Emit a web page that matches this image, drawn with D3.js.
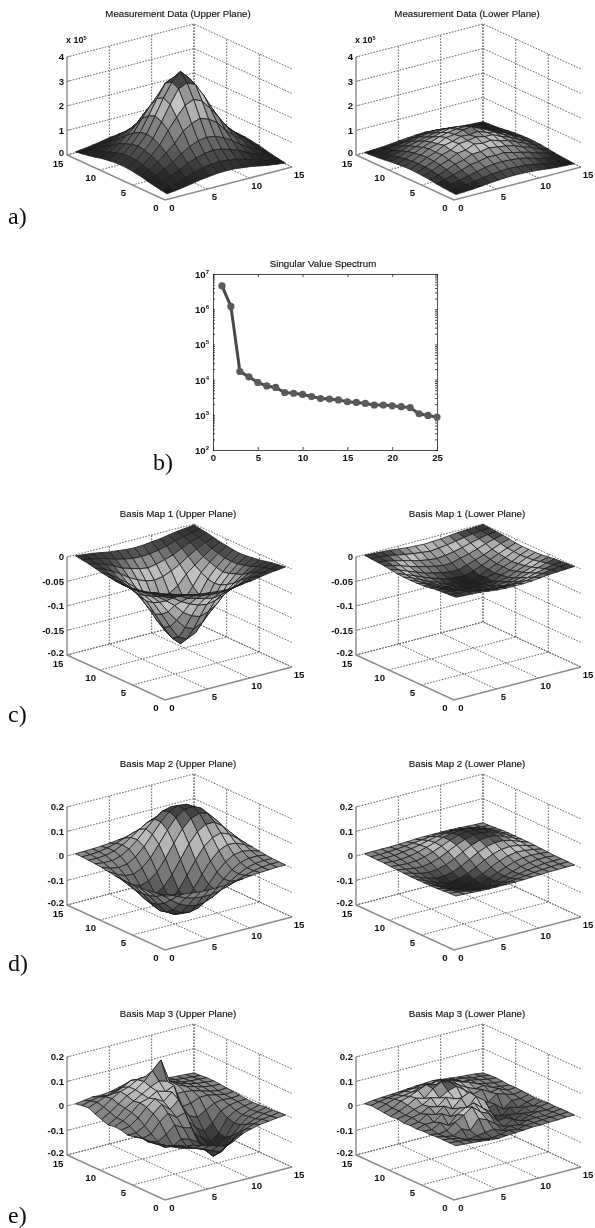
<!DOCTYPE html>
<html>
<head>
<meta charset="utf-8">
<script src="https://cdn.jsdelivr.net/npm/d3@7"></script>
<style>
  html, body { margin: 0; background: #fff; }
  text { font-family: "Liberation Sans", Arial, sans-serif; fill: #111; }
  .tick-label { font-size: 9.6px; font-weight: bold; }
  .title { font-size: 9.7px; stroke: #111; stroke-width: 0.15px; }
  .letter { font-family: "Liberation Serif", serif; font-size: 24px; }
</style>
</head>
<body>
<div id="chart"></div>
<script>
// singular values, panel b
const modeIndex = d3.range(1, 26)
const singularValues = [4.6e6, 1.2e6, 1.7e4, 1.2e4, 8.3e3, 6.6e3, 6.0e3, 4.3e3, 4.1e3, 3.8e3, 3.3e3, 2.9e3, 2.8e3,
  2.65e3, 2.35e3, 2.25e3, 2.1e3, 1.9e3, 1.9e3, 1.8e3, 1.7e3, 1.6e3, 1.07e3, 960, 860]

// surfaces: rows are y = 1..15, columns x = 1..15 (row 0 is the front edge)
// measurement data in units of 1e3
const measUpper = [
  [4,8,13,19,26,30,34,35,34,30,26,19,13,8,4],
  [8,14,23,32,43,52,58,60,58,52,43,32,23,14,8],
  [13,23,34,50,68,80,90,95,90,80,68,50,34,23,13],
  [19,32,50,70,95,115,130,135,130,115,95,70,50,32,19],
  [26,43,68,95,125,165,188,200,188,165,125,95,68,43,26],
  [30,52,80,115,165,210,250,265,250,210,165,115,80,52,30],
  [34,58,90,130,188,250,305,320,305,250,188,130,90,58,34],
  [35,60,95,135,200,265,320,355,320,265,200,135,95,60,35],
  [34,58,90,130,188,250,305,320,305,250,188,130,90,58,34],
  [30,52,80,115,165,210,250,265,250,210,165,115,80,52,30],
  [26,43,68,95,125,165,188,200,188,165,125,95,68,43,26],
  [19,32,50,70,95,115,130,135,130,115,95,70,50,32,19],
  [13,23,34,50,68,80,90,95,90,80,68,50,34,23,13],
  [8,14,23,32,43,52,58,60,58,52,43,32,23,14,8],
  [4,8,13,19,26,30,34,35,34,30,26,19,13,8,4]
]
const measLower = [
  [1,3,5,8,12,15,17,18,17,15,12,8,5,3,1],
  [3,6,10,16,22,27,30,32,30,27,22,16,10,6,3],
  [5,10,17,26,34,42,47,48,46,43,36,25,17,10,5],
  [8,16,27,37,50,54,63,61,64,55,47,38,26,16,8],
  [12,22,35,49,58,72,73,80,74,70,62,47,37,22,12],
  [15,27,43,54,72,76,92,86,90,78,71,56,41,27,15],
  [17,30,45,63,73,90,93,100,92,91,74,63,45,30,17],
  [18,32,49,61,80,87,99,96,101,88,80,62,49,32,18],
  [17,30,46,63,74,91,94,103,108,92,76,61,47,30,17],
  [15,27,42,56,69,82,90,95,98,84,72,56,42,27,15],
  [12,22,36,47,61,69,78,85,84,75,61,49,36,22,12],
  [8,16,26,38,48,56,64,70,68,58,50,37,26,16,8],
  [5,10,17,26,36,44,50,54,50,44,36,26,17,10,5],
  [3,6,10,16,22,28,33,36,33,28,22,16,10,6,3],
  [1,3,5,8,12,15,18,20,18,15,12,8,5,3,1]
]
// basis maps in units of 1e-3
const basis1Upper = [
  [-2,-4,-6,-9,-12,-14,-16,-17,-16,-14,-12,-9,-6,-4,-2],
  [-4,-7,-11,-15,-21,-25,-28,-29,-28,-25,-21,-15,-11,-7,-4],
  [-6,-11,-16,-24,-33,-38,-43,-46,-43,-38,-33,-24,-16,-11,-6],
  [-9,-15,-24,-34,-46,-55,-62,-65,-62,-55,-46,-34,-24,-15,-9],
  [-12,-21,-33,-46,-60,-79,-90,-96,-90,-79,-60,-46,-33,-21,-12],
  [-14,-25,-38,-55,-79,-101,-120,-127,-120,-101,-79,-55,-38,-25,-14],
  [-16,-28,-43,-62,-90,-120,-146,-154,-146,-120,-90,-62,-43,-28,-16],
  [-17,-29,-46,-65,-96,-127,-154,-170,-154,-127,-96,-65,-46,-29,-17],
  [-16,-28,-43,-62,-90,-120,-146,-154,-146,-120,-90,-62,-43,-28,-16],
  [-14,-25,-38,-55,-79,-101,-120,-127,-120,-101,-79,-55,-38,-25,-14],
  [-12,-21,-33,-46,-60,-79,-90,-96,-90,-79,-60,-46,-33,-21,-12],
  [-9,-15,-24,-34,-46,-55,-62,-65,-62,-55,-46,-34,-24,-15,-9],
  [-6,-11,-16,-24,-33,-38,-43,-46,-43,-38,-33,-24,-16,-11,-6],
  [-4,-7,-11,-15,-21,-25,-28,-29,-28,-25,-21,-15,-11,-7,-4],
  [-2,-4,-6,-9,-12,-14,-16,-17,-16,-14,-12,-9,-6,-4,-2]
]
const basis1Lower = [
  [-1,-2,-3,-4,-6,-8,-9,-9,-9,-8,-6,-4,-3,-2,-1],
  [-2,-3,-5,-8,-11,-14,-15,-16,-15,-14,-11,-8,-5,-3,-2],
  [-3,-5,-9,-13,-17,-21,-24,-24,-23,-22,-18,-13,-9,-5,-3],
  [-4,-8,-14,-19,-25,-27,-32,-31,-32,-28,-24,-19,-13,-8,-4],
  [-6,-11,-18,-25,-29,-36,-37,-40,-37,-35,-31,-24,-18,-11,-6],
  [-8,-14,-22,-27,-36,-38,-46,-43,-45,-39,-36,-28,-21,-14,-8],
  [-9,-15,-23,-32,-37,-45,-47,-50,-46,-46,-37,-32,-23,-15,-9],
  [-9,-16,-25,-31,-40,-44,-50,-48,-51,-44,-40,-31,-25,-16,-9],
  [-9,-15,-23,-32,-37,-46,-47,-51,-52,-46,-38,-31,-23,-15,-9],
  [-8,-14,-21,-28,-35,-41,-45,-47,-48,-42,-36,-28,-21,-14,-8],
  [-6,-11,-18,-24,-31,-35,-39,-42,-42,-37,-31,-25,-18,-11,-6],
  [-4,-8,-13,-19,-24,-28,-32,-35,-34,-29,-25,-19,-13,-8,-4],
  [-3,-5,-9,-13,-18,-22,-25,-27,-25,-22,-18,-13,-9,-5,-3],
  [-2,-3,-5,-8,-11,-14,-16,-18,-16,-14,-11,-8,-5,-3,-2],
  [-1,-2,-3,-4,-6,-8,-9,-10,-9,-8,-6,-4,-3,-2,-1]
]
const basis2Upper = [
  [-2,-6,-10,-15,-19,-20,-20,-19,-15,-11,-7,-4,-2,0,0],
  [-6,-18,-32,-47,-57,-61,-60,-54,-43,-31,-19,-9,-3,0,1],
  [-10,-32,-59,-85,-101,-108,-104,-91,-70,-46,-25,-9,0,3,2],
  [-15,-47,-85,-121,-141,-148,-140,-116,-84,-49,-20,0,9,9,4],
  [-19,-57,-101,-141,-161,-165,-149,-116,-74,-33,0,20,25,19,7],
  [-20,-61,-108,-148,-165,-161,-137,-95,-46,0,33,49,46,31,11],
  [-20,-60,-104,-140,-149,-137,-103,-54,0,46,74,84,70,43,15],
  [-19,-54,-91,-116,-116,-95,-54,0,54,95,116,116,91,54,19],
  [-15,-43,-70,-84,-74,-46,0,54,103,137,149,140,104,60,20],
  [-11,-31,-46,-49,-33,0,46,95,137,161,165,148,108,61,20],
  [-7,-19,-25,-20,0,33,74,116,149,165,161,141,101,57,19],
  [-4,-9,-9,0,20,49,84,116,140,148,141,121,85,47,15],
  [-2,-3,0,9,25,46,70,91,104,108,101,85,59,32,10],
  [0,0,3,9,19,31,43,54,60,61,57,47,32,18,6],
  [0,1,2,4,7,11,15,19,20,20,19,15,10,6,2]
]
const basis2Lower = [
  [-1,-2,-4,-6,-7,-7,-7,-7,-6,-4,-3,-1,-1,0,0],
  [-2,-6,-11,-17,-20,-22,-21,-19,-15,-11,-7,-4,-1,0,1],
  [-4,-11,-21,-30,-36,-38,-36,-32,-25,-16,-9,-4,0,1,1],
  [-6,-17,-30,-43,-50,-52,-49,-41,-29,-18,-7,0,4,4,1],
  [-7,-20,-36,-50,-57,-58,-53,-41,-26,-12,0,7,9,7,3],
  [-7,-22,-38,-52,-58,-57,-48,-34,-16,0,12,18,16,11,4],
  [-7,-21,-36,-49,-53,-48,-36,-19,0,16,26,29,25,15,6],
  [-7,-19,-32,-41,-41,-34,-19,0,19,34,41,41,32,19,7],
  [-6,-15,-25,-29,-26,-16,0,19,36,48,53,49,36,21,7],
  [-4,-11,-16,-18,-12,0,16,34,48,57,58,52,38,22,7],
  [-3,-7,-9,-7,0,12,26,41,53,58,57,50,36,20,7],
  [-1,-4,-4,0,7,18,29,41,49,52,50,43,30,17,6],
  [-1,-1,0,4,9,16,25,32,36,38,36,30,21,11,4],
  [0,0,1,4,7,11,15,19,21,22,20,17,11,6,2],
  [0,1,1,1,3,4,6,7,7,7,7,6,4,2,1]
]
const basis3Upper = [
  [-5,-12,-20,-25,-35,-45,-55,-65,-50,-30,-20,-12,-8,-3,0],
  [-10,-22,-30,-45,-55,-70,-85,-100,-80,-55,-35,-22,-12,-8,-2],
  [-15,-30,-45,-60,-70,-80,-95,-130,-120,-90,-60,-35,-22,-10,-5],
  [-20,-35,-60,-65,-45,-55,-75,-120,-140,-120,-85,-50,-25,-15,-5],
  [-15,-40,-50,-30,0,-20,-30,-100,-125,-135,-105,-55,-30,-18,-8],
  [-25,-40,-30,10,35,10,20,-70,-100,-125,-100,-45,-25,-15,-10],
  [-30,-30,-10,30,60,30,60,-30,-70,-95,-70,-30,-15,-10,-8],
  [-22,-15,10,45,70,50,80,10,-35,-50,-30,-10,-5,-8,-5],
  [-20,-5,20,50,60,80,70,85,-10,-5,10,10,2,-5,-2],
  [-25,-5,25,45,65,85,100,90,30,30,25,15,5,-2,0],
  [-15,5,30,55,70,95,130,165,70,45,30,20,10,5,3],
  [-5,15,40,60,70,90,95,80,60,40,30,20,12,8,5],
  [8,22,35,40,55,75,70,65,50,35,25,15,10,8,5],
  [5,15,22,18,30,45,50,55,35,25,18,12,8,5,2],
  [0,5,10,8,12,20,25,30,25,15,10,8,5,3,0]
]
const basis3Lower = [
  [0,-2,-5,-8,-12,-15,-12,-10,-8,-5,-5,-3,-2,0,0],
  [0,-3,-8,-15,-22,-25,-20,-12,-18,-10,-8,-5,-3,-2,0],
  [0,-5,-12,-25,-20,-15,-10,-25,-15,-20,-10,-8,-10,-3,0],
  [0,-8,-15,5,-10,30,15,-10,-30,-10,-25,-12,-5,-8,-2],
  [-3,-10,-5,20,40,65,35,20,-20,-15,-35,-15,-20,-5,0],
  [-2,-5,15,-5,30,50,60,30,5,-45,-25,-30,-10,-15,-3],
  [-5,5,5,30,10,35,25,65,40,-30,-40,-15,-25,-12,-5],
  [-3,2,25,15,40,20,55,70,10,-20,-5,-35,-8,-10,-2],
  [-5,8,15,35,25,55,40,30,20,5,-10,15,5,-5,0],
  [0,5,20,30,50,40,60,70,45,20,30,10,15,0,2],
  [-3,10,25,45,35,65,85,75,55,35,20,25,8,3,0],
  [0,10,30,40,55,70,60,50,60,45,35,20,12,5,3],
  [3,15,25,30,35,45,40,55,45,40,25,22,15,8,5],
  [5,12,18,22,28,30,35,30,38,28,22,18,10,8,3],
  [0,5,8,10,12,15,18,20,22,18,15,10,8,5,0]
]

const floorTicks = [0, 5, 10, 15]
const measTicks = [0, 100, 200, 300, 400]
const basis1Ticks = [0, -50, -100, -150, -200]
const basisTicks = [200, 100, 0, -100, -200]

const width = 595
const height = 1228
const leftX = 165
const rightX = 454

// name, front corner of the box, z range, colour limits, z ticks
const panels = [
  {title: "Measurement Data (Upper Plane)", fx: leftX, fy: 200, z: measUpper, zr: [0, 400], clim: [0, 355], ticks: measTicks, fmt: d => d / 100},
  {title: "Measurement Data (Lower Plane)", fx: rightX, fy: 200, z: measLower, zr: [0, 400], clim: [0, 120], ticks: measTicks, fmt: d => d / 100},
  {title: "Basis Map 1 (Upper Plane)", fx: leftX, fy: 700, z: basis1Upper, zr: [-200, 0], clim: [-200, 0], ticks: basis1Ticks, fmt: d => d / 1000},
  {title: "Basis Map 1 (Lower Plane)", fx: rightX, fy: 700, z: basis1Lower, zr: [-200, 0], clim: [-52, 0], ticks: basis1Ticks, fmt: d => d / 1000},
  {title: "Basis Map 2 (Upper Plane)", fx: leftX, fy: 950, z: basis2Upper, zr: [-200, 200], clim: [-190, 180], ticks: basisTicks, fmt: d => d / 1000},
  {title: "Basis Map 2 (Lower Plane)", fx: rightX, fy: 950, z: basis2Lower, zr: [-200, 200], clim: [-60, 60], ticks: basisTicks, fmt: d => d / 1000},
  {title: "Basis Map 3 (Upper Plane)", fx: leftX, fy: 1200, z: basis3Upper, zr: [-200, 200], clim: [-150, 170], ticks: basisTicks, fmt: d => d / 1000},
  {title: "Basis Map 3 (Lower Plane)", fx: rightX, fy: 1200, z: basis3Lower, zr: [-200, 200], clim: [-60, 90], ticks: basisTicks, fmt: d => d / 1000}
]

const svgRoot = d3.select("#chart").append("svg")
  .attr("width", width)
  .attr("height", height)
  .style("display", "block")

svgRoot.append("defs").append("filter")
  .attr("id", "scan")
  .attr("filterUnits", "userSpaceOnUse")
  .attr("x", 0).attr("y", 0).attr("width", width).attr("height", height)
  .append("feGaussianBlur").attr("stdDeviation", 0.5)

const svg = svgRoot.append("g").attr("filter", "url(#scan)")

// the jet map as it looks printed in gray
const jetGray = d3.scaleLinear()
  .domain([0, 0.1, 0.25, 0.4, 0.55, 0.65, 0.72, 0.82, 0.9, 1])
  .range(["#1a1a1a", "#2a2a2a", "#555555", "#7c7c7c", "#8c8c8c", "#b8b8b8", "#c4c4c4", "#8c8c8c", "#4a4a4a", "#2c2c2c"])
  .clamp(true)

// box projection
const xToH = d3.scaleLinear().domain([0, 15]).range([0, 127])
const xToV = d3.scaleLinear().domain([0, 15]).range([0, -33])
const yToH = d3.scaleLinear().domain([0, 15]).range([0, -98])
const yToV = d3.scaleLinear().domain([0, 15]).range([0, -45])

function drawSurface(p) {
  const g = svg.append("g").attr("transform", `translate(${p.fx},${p.fy})`)
  const zToV = d3.scaleLinear().domain(p.zr).range([0, -98])
  const zLow = p.zr[0]
  const zHigh = p.zr[1]
  const project = (x, y, z) => [xToH(x) + yToH(y), xToV(x) + yToV(y) + zToV(z)]
  const t = d3.scaleLinear().domain(p.clim).range([0, 1])
  const line = d3.line()

  const dotted = g.append("g")
    .attr("fill", "none")
    .attr("stroke", "#555")
    .attr("stroke-width", 0.9)
    .attr("stroke-dasharray", "1.6 1.4")

  // walls and floor grid
  p.ticks.forEach(v => {
    dotted.append("path").attr("d", line([project(0, 15, v), project(15, 15, v), project(15, 0, v)]))
  })
  floorTicks.slice(1).forEach(v => {
    dotted.append("path").attr("d", line([project(v, 15, zLow), project(v, 15, zHigh)]))
    dotted.append("path").attr("d", line([project(15, v, zLow), project(15, v, zHigh)]))
    dotted.append("path").attr("d", line([project(v, 0, zLow), project(v, 15, zLow)]))
    dotted.append("path").attr("d", line([project(0, v, zLow), project(15, v, zLow)]))
  })

  // solid axes
  const axes = g.append("g").attr("fill", "none").attr("stroke", "#8a8a8a").attr("stroke-width", 1.4)
  axes.append("path").attr("d", line([project(0, 15, zHigh), project(0, 15, zLow), project(0, 0, zLow), project(15, 0, zLow)]))
  p.ticks.forEach(v => {
    const q = project(0, 15, v)
    axes.append("path").attr("d", line([q, [q[0] + 3, q[1] - 1]])).attr("stroke-width", 0.8)
  })

  // facets, back to front
  const cells = []
  p.z.forEach((row, j) => row.forEach((v, i) => {
    if (i < row.length - 1 && j < p.z.length - 1) cells.push({i, j})
  }))
  cells.sort((a, b) => (b.i + b.j) - (a.i + a.j))

  g.append("g").selectAll("path")
    .data(cells)
    .join("path")
    .attr("d", d => line([
      project(d.i + 1, d.j + 1, p.z[d.j][d.i]),
      project(d.i + 2, d.j + 1, p.z[d.j][d.i + 1]),
      project(d.i + 2, d.j + 2, p.z[d.j + 1][d.i + 1]),
      project(d.i + 1, d.j + 2, p.z[d.j + 1][d.i])
    ]) + "Z")
    .attr("fill", d => jetGray(t((p.z[d.j][d.i] + p.z[d.j][d.i + 1] + p.z[d.j + 1][d.i + 1] + p.z[d.j + 1][d.i]) / 4)))
    .attr("stroke", "#1c1c1c")
    .attr("stroke-width", 0.8)
    .attr("stroke-linejoin", "round")

  // labels
  g.selectAll(".zlab").data(p.ticks).join("text")
    .attr("class", "zlab tick-label")
    .attr("text-anchor", "end")
    .attr("x", d => project(0, 15, d)[0] - 3)
    .attr("y", d => project(0, 15, d)[1] + (d === zLow ? 0.5 : 3))
    .text(p.fmt)

  g.selectAll(".ylab").data(floorTicks).join("text")
    .attr("class", "ylab tick-label")
    .attr("text-anchor", "middle")
    .attr("x", d => project(0, d, zLow)[0] - 9)
    .attr("y", d => project(0, d, zLow)[1] + (d === 15 ? 12 : 11))
    .text(d => d)

  g.selectAll(".xlab").data(floorTicks).join("text")
    .attr("class", "xlab tick-label")
    .attr("text-anchor", "middle")
    .attr("x", d => project(d, 0, zLow)[0] + 7)
    .attr("y", d => project(d, 0, zLow)[1] + 11)
    .text(d => d)

  g.append("text")
    .attr("class", "title")
    .attr("text-anchor", "middle")
    .attr("x", 13)
    .attr("y", -183)
    .text(p.title)

  if (p.z === measUpper || p.z === measLower) {
    const mult = g.append("text").attr("class", "tick-label").attr("x", -99).attr("y", -157).style("font-size", "9px")
    mult.append("tspan").text("x 10")
    mult.append("tspan").attr("dy", -3).style("font-size", "5.5px").text("5")
  }
}

panels.forEach(drawSurface)

// singular value spectrum
const bx = d3.scaleLinear().domain([0, 25]).range([213, 437])
const by = d3.scaleLog().domain([1e2, 1e7]).range([450, 274])
const powers = [2, 3, 4, 5, 6, 7]
const minorTicks = by.ticks()

const bottomAxis = svg.append("g")
  .attr("transform", "translate(0,450)")
  .call(d3.axisBottom(bx).tickValues([0, 5, 10, 15, 20, 25]).tickSize(-3).tickPadding(4))
const topAxis = svg.append("g")
  .attr("transform", "translate(0,274)")
  .call(d3.axisTop(bx).tickValues([0, 5, 10, 15, 20, 25]).tickSize(-3).tickFormat(""))
const leftAxis = svg.append("g")
  .attr("transform", "translate(213,0)")
  .call(d3.axisLeft(by).tickValues(minorTicks).tickSize(-2).tickFormat(""))
const rightAxis = svg.append("g")
  .attr("transform", "translate(437,0)")
  .call(d3.axisRight(by).tickValues(minorTicks).tickSize(-2).tickFormat(""))

;[bottomAxis, topAxis, leftAxis, rightAxis].forEach(a => {
  a.selectAll("path, line").attr("stroke", "#222").attr("stroke-width", 0.8)
})
bottomAxis.selectAll("text").attr("class", "tick-label").attr("fill", null)

const logLabels = svg.selectAll(".loglab").data(powers).join("text")
  .attr("class", "loglab tick-label")
  .attr("text-anchor", "end")
  .attr("x", 209)
  .attr("y", d => by(Math.pow(10, d)) + 4)
logLabels.append("tspan").text("10")
logLabels.append("tspan").attr("dy", -4).style("font-size", "6px").text(d => d)

const specLine = d3.line().x((d, i) => bx(modeIndex[i])).y(d => by(d))
svg.append("path")
  .attr("d", specLine(singularValues))
  .attr("fill", "none")
  .attr("stroke", "#4a4a4a")
  .attr("stroke-width", 3)
svg.selectAll(".pt").data(singularValues).join("circle")
  .attr("class", "pt")
  .attr("cx", (d, i) => bx(modeIndex[i]))
  .attr("cy", d => by(d))
  .attr("r", 3.6)
  .attr("fill", "#5a5a5a")

svg.append("text").attr("class", "title").attr("text-anchor", "middle").attr("x", 323).attr("y", 267).text("Singular Value Spectrum")

// figure letters
const letters = [["a)", 8, 224], ["b)", 153, 470], ["c)", 8, 722], ["d)", 8, 971], ["e)", 8, 1223]]
svg.selectAll(".letter").data(letters).join("text")
  .attr("class", "letter")
  .attr("x", d => d[1])
  .attr("y", d => d[2])
  .text(d => d[0])
</script>
</body>
</html>
